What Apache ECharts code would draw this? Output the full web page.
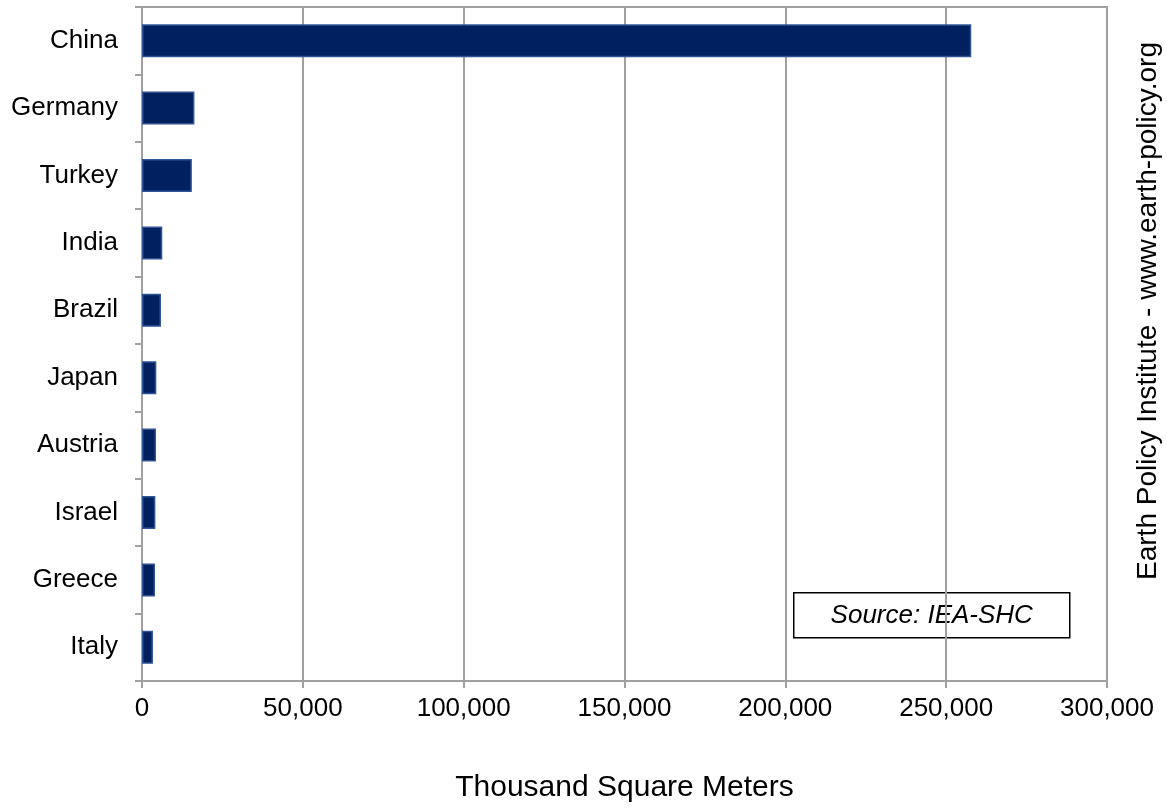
<!DOCTYPE html>
<html><head><meta charset="utf-8">
<script src="https://cdn.jsdelivr.net/npm/echarts@6/dist/echarts.min.js"></script>
<style>html,body{margin:0;padding:0;background:#fff}#c{width:1167px;height:808px}</style>
</head><body><div id="c"></div>
<script>
const categories = ["China","Germany","Turkey","India","Brazil","Japan","Austria","Israel","Greece","Italy"];
const values = [257800,16300,15500,6300,5900,4450,4350,4150,4050,3400];
const xTicks = {min:0, max:300000, interval:50000};
const xTitle = "Thousand Square Meters";
const sideNote = "Earth Policy Institute - www.earth-policy.org";
const sourceNote = "Source: IEA-SHC";

const chart = echarts.init(document.getElementById('c'));
const font = "'Liberation Sans', Arial, sans-serif";
chart.setOption({
  animation:false,
  grid:{left:142,right:60,top:7,bottom:126,containLabel:false,
    show:true,borderColor:'#a0a0a0',borderWidth:2,backgroundColor:'transparent'},
  xAxis:{type:'value',min:xTicks.min,max:xTicks.max,interval:xTicks.interval,
    axisLine:{show:true,lineStyle:{color:'#a0a0a0',width:2}},
    axisTick:{show:true,length:7,lineStyle:{color:'#a0a0a0',width:2}},
    splitLine:{show:true,lineStyle:{color:'#a0a0a0',width:2}},
    axisLabel:{fontSize:26,fontFamily:font,color:'#000',margin:15,
      formatter:v=>v.toLocaleString('en-US')},
    name:xTitle,nameLocation:'middle',nameGap:92,
    nameTextStyle:{fontSize:30,fontFamily:font,color:'#000'}},
  yAxis:{type:'category',data:categories,inverse:true,
    axisLine:{show:true,lineStyle:{color:'#a0a0a0',width:2}},
    axisTick:{show:true,length:7,lineStyle:{color:'#a0a0a0',width:2}},
    splitLine:{show:false},
    axisLabel:{fontSize:26,fontFamily:font,color:'#000',margin:24}},
  series:[{type:'bar',data:values,barWidth:'49%',
    itemStyle:{color:'#002060',borderColor:'#2f5597',borderWidth:1.5}}],
  graphic:[
    {type:'group',left:793,top:592,children:[
      {type:'rect',shape:{x:0,y:0,width:276,height:45},style:{fill:'#fff',stroke:'#000',lineWidth:1.5}},
      {type:'text',x:138,y:23,style:{text:sourceNote,fontSize:26,fontStyle:'italic',fontFamily:font,fill:'#000',align:'center',verticalAlign:'middle'}}
    ]},
    {type:'text',x:1148,y:311,rotation:Math.PI/2,
      style:{text:sideNote,fontSize:28,fontFamily:font,fill:'#000',align:'center',verticalAlign:'middle'}}
  ]
});
</script></body></html>
